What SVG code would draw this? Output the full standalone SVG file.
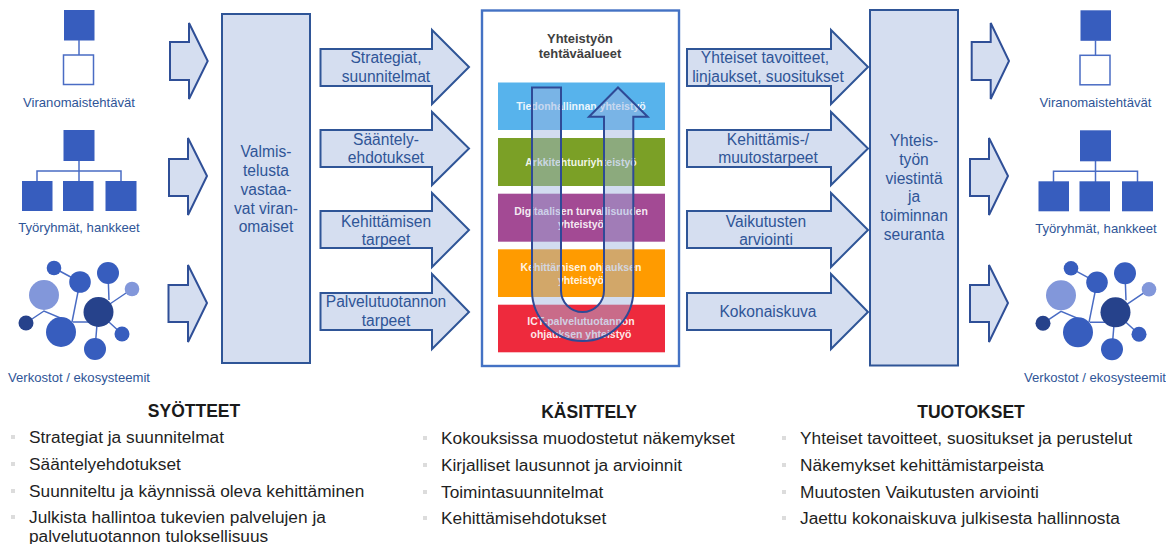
<svg xmlns="http://www.w3.org/2000/svg" width="1166" height="544" viewBox="0 0 1166 544">
<style>
text{font-family:"Liberation Sans",Arial,sans-serif}
.a{fill:#d5def0;stroke:#2f5597;stroke-width:2}
.sa{fill:#d5def0;stroke:#2f4f97;stroke-width:2}
.t{font-size:15.6px;fill:#2f5597;text-anchor:middle}
.l{font-size:13.1px;fill:#2f5597;text-anchor:middle}
.s{fill:#375dbe}
.h{fill:#fff;stroke:#4a6cc4;stroke-width:1.5}
.ln{fill:none;stroke:#4a6cc4;stroke-width:1.5}
.b{font-size:10.5px;font-weight:bold;fill:#fff;fill-opacity:.9;text-anchor:middle}
.hd{font-size:17.5px;font-weight:bold;fill:#1a1a1a;text-anchor:middle}
.li{font-size:17.3px;fill:#1f1f1f}
.bu{fill:#dcdcdc}
.c1{fill:#375dbe}.c2{fill:#26428b}.c3{fill:#8297da}
</style>
<defs>
<g id="icon1"><rect class="s" x="64" y="10" width="30.500" height="30.500"/><line class="ln" x1="79" y1="40" x2="79" y2="55"/><rect class="h" x="63.500" y="55" width="30" height="29.500"/></g>
<g id="icon2"><line class="ln" x1="79" y1="160" x2="79" y2="182"/><path class="ln" d="M37 182V171H121V182"/><rect class="s" x="63.500" y="130" width="31" height="31"/><rect class="s" x="22" y="181" width="30.500" height="30"/><rect class="s" x="63" y="181" width="30.500" height="30"/><rect class="s" x="105.500" y="181" width="31" height="30"/></g>
<g id="icon3"><path class="ln" d="M54 268L80 282L72 322M108 273L109 300M132 289L98 312M26 323L44 311L70 322M73 322H98M98 312L122 334M98 312L95 349"/>
<circle class="c1" cx="54" cy="268" r="7.300"/><circle class="c1" cx="80" cy="282" r="10.800"/><circle class="c3" cx="44" cy="295" r="15"/><circle class="c1" cx="108" cy="273" r="11"/><circle class="c3" cx="132" cy="289" r="7.300"/><circle class="c2" cx="98.500" cy="312" r="15"/><circle class="c2" cx="26" cy="323" r="7.500"/><circle class="c1" cx="61" cy="332" r="15"/><circle class="c1" cx="122" cy="334" r="7.500"/><circle class="c1" cx="95" cy="349" r="11"/></g>
</defs>
<rect width="1166" height="544" fill="#fff"/>

<g id="input-viranomaistehtavat"><use href="#icon1"/><text class="l" x="79" y="107">Viranomaistehtävät</text></g>
<g id="input-tyoryhmat"><use href="#icon2"/><text class="l" x="79" y="232">Työryhmät, hankkeet</text></g>
<g id="input-verkostot"><use href="#icon3"/><text class="l" x="79" y="382">Verkostot / ekosysteemit</text></g>

<g id="valmistelu"><rect class="a" x="222" y="14" width="88" height="349"/>
<text class="t" x="266" y="157">Valmis-</text><text class="t" x="266" y="176">telusta</text><text class="t" x="266" y="195">vastaa-</text><text class="t" x="266" y="214">vat viran-</text><text class="t" x="266" y="232">omaiset</text></g>

<g id="connectors">
<path class="sa" d="M170 42H189V23L207.700 61L189 99V80H170Z"/>
<path class="sa" d="M169 159H188V138L207 176L188 215V196H169Z"/>
<path class="sa" d="M168.500 285H188V265L207 303L188 342V322H168.500Z"/>
<path class="sa" d="M971.700 42H990.700V23L1009 61L990.700 99V80H971.700Z"/>
<path class="sa" d="M970 159H989V138L1008 176L989 215V196H970Z"/>
<path class="sa" d="M970 285H989V265L1008 303L989 342V322H970Z"/>
<path class="a" d="M320.500 49H432V30L469 67L432 104V86H320.500Z"/>
<path class="a" d="M320.500 130H432V112L469 148.500L432 185V167H320.500Z"/>
<path class="a" d="M320.500 211H432V193L469 230L432 267V248H320.500Z"/>
<path class="a" d="M320.500 293H432V274L469 312L432 349V330H320.500Z"/>
<path class="a" d="M687 49H831V30L868 67L831 104V86H687Z"/>
<path class="a" d="M687 130H831V112L868 148.500L831 185V167H687Z"/>
<path class="a" d="M687 211H831V193L868 230L831 267V248H687Z"/>
<path class="a" d="M687 293H831V274L868 312L831 349V330H687Z"/>
</g>
<g id="arrow-labels">
<text class="t" x="386" y="63">Strategiat,</text><text class="t" x="386" y="82">suunnitelmat</text>
<text class="t" x="386" y="145">Sääntely-</text><text class="t" x="386" y="163">ehdotukset</text>
<text class="t" x="386" y="227">Kehittämisen</text><text class="t" x="386" y="245">tarpeet</text>
<text class="t" x="386" y="307">Palvelutuotannon</text><text class="t" x="386" y="326">tarpeet</text>
<text class="t" x="765" y="63">Yhteiset tavoitteet,</text><text class="t" x="768" y="82">linjaukset, suositukset</text>
<text class="t" x="768" y="145">Kehittämis-/</text><text class="t" x="768" y="163">muutostarpeet</text>
<text class="t" x="766" y="227">Vaikutusten</text><text class="t" x="766" y="245">arviointi</text>
<text class="t" x="768" y="317">Kokonaiskuva</text>
</g>

<g id="tehtavaalueet">
<rect x="482" y="10.500" width="197" height="355.500" fill="#fff" stroke="#4472c4" stroke-width="2.400"/>
<text x="580" y="43" font-size="12.900" font-weight="bold" fill="#404040" text-anchor="middle">Yhteistyön</text>
<text x="580" y="58" font-size="12.900" font-weight="bold" fill="#404040" text-anchor="middle">tehtäväalueet</text>
<rect x="498" y="82.500" width="167" height="47.500" fill="#57b3ec"/>
<rect x="498" y="138" width="167" height="48" fill="#7ba026"/>
<rect x="498" y="193.700" width="167" height="48" fill="#a34a94"/>
<rect x="498" y="249.300" width="167" height="47.700" fill="#ff9b00"/>
<rect x="498" y="304.700" width="167" height="47.600" fill="#ee2a3d"/>
<text class="b" x="581" y="110">Tiedonhallinnan yhteistyö</text>
<text class="b" x="581" y="166">Arkkitehtuuriyhteistyö</text>
<text class="b" x="581" y="215">Digitaalisen turvallisuuden</text><text class="b" x="581" y="228">yhteistyö</text>
<text class="b" x="581" y="271">Kehittämisen ohjauksen</text><text class="b" x="581" y="284">yhteistyö</text>
<text class="b" x="581" y="325">ICT-palvelutuotannon</text><text class="b" x="581" y="338">ohjauksen yhteistyö</text>
<path d="M532 87.500H561V290.500A21.500 21.500 0 0 0 604 290.500V116.700H589L618 87.500L647.700 116.700H633.300V290.500A50.650 50.650 0 0 1 532 290.500Z" fill="#9fb4e0" fill-opacity=".47" stroke="#2f4a96" stroke-width="2"/>
</g>

<g id="seuranta"><rect class="a" x="870" y="10" width="88" height="355.500"/>
<text class="t" x="914" y="146">Yhteis-</text><text class="t" x="914" y="165">työn</text><text class="t" x="914" y="184">viestintä</text><text class="t" x="914" y="202">ja</text><text class="t" x="914" y="221">toiminnan</text><text class="t" x="914" y="240">seuranta</text></g>

<g id="output-viranomaistehtavat"><use href="#icon1" x="1016.500" y="0.300"/><text class="l" x="1095.500" y="107">Viranomaistehtävät</text></g>
<g id="output-tyoryhmat"><use href="#icon2" x="1016.500" y="0.300"/><text class="l" x="1096" y="233">Työryhmät, hankkeet</text></g>
<g id="output-verkostot"><use href="#icon3" x="1017" y="0.300"/><text class="l" x="1095" y="382">Verkostot / ekosysteemit</text></g>

<g id="syotteet">
<text class="hd" x="194" y="417">SYÖTTEET</text>
<rect class="bu" x="11" y="435" width="4" height="4"/><text class="li" x="29" y="443">Strategiat ja suunnitelmat</text>
<rect class="bu" x="11" y="462" width="4" height="4"/><text class="li" x="29" y="470">Sääntelyehdotukset</text>
<rect class="bu" x="11" y="489" width="4" height="4"/><text class="li" x="29" y="497">Suunniteltu ja käynnissä oleva kehittäminen</text>
<rect class="bu" x="11" y="515" width="4" height="4"/><text class="li" x="29" y="523">Julkista hallintoa tukevien palvelujen ja</text>
<text class="li" x="29" y="542">palvelutuotannon tuloksellisuus</text>
</g>
<g id="kasittely">
<text class="hd" x="589" y="418">KÄSITTELY</text>
<rect class="bu" x="423" y="436" width="4" height="4"/><text class="li" x="441" y="444">Kokouksissa muodostetut näkemykset</text>
<rect class="bu" x="423" y="463" width="4" height="4"/><text class="li" x="441" y="471">Kirjalliset lausunnot ja arvioinnit</text>
<rect class="bu" x="423" y="490" width="4" height="4"/><text class="li" x="441" y="498">Toimintasuunnitelmat</text>
<rect class="bu" x="423" y="516" width="4" height="4"/><text class="li" x="441" y="524">Kehittämisehdotukset</text>
</g>
<g id="tuotokset">
<text class="hd" x="971" y="418">TUOTOKSET</text>
<rect class="bu" x="782" y="436" width="4" height="4"/><text class="li" x="800" y="444">Yhteiset tavoitteet, suositukset ja perustelut</text>
<rect class="bu" x="782" y="463" width="4" height="4"/><text class="li" x="800" y="471">Näkemykset kehittämistarpeista</text>
<rect class="bu" x="782" y="490" width="4" height="4"/><text class="li" x="800" y="498">Muutosten Vaikutusten arviointi</text>
<rect class="bu" x="782" y="516" width="4" height="4"/><text class="li" x="800" y="524">Jaettu kokonaiskuva julkisesta hallinnosta</text>
</g>
</svg>
